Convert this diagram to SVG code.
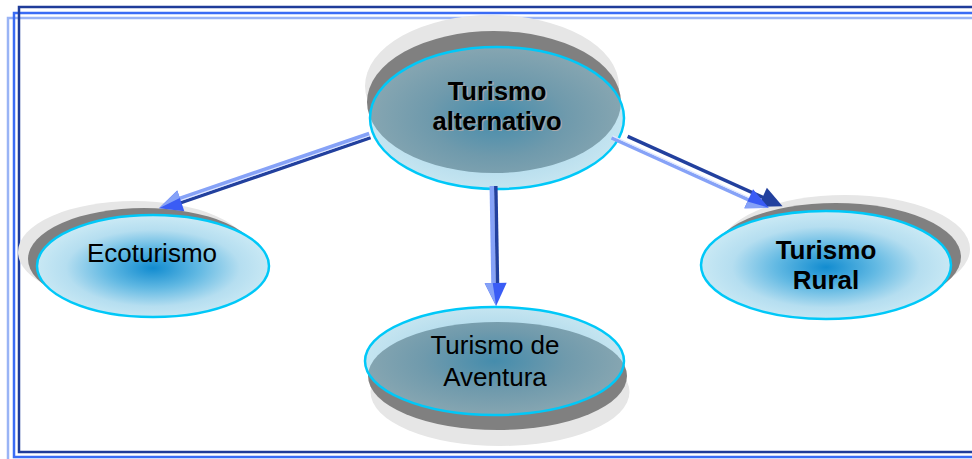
<svg xmlns="http://www.w3.org/2000/svg" width="972" height="459" viewBox="0 0 972 459">
<defs>
<style>
.sh1{fill:#e6e6e6}
.sh2{fill:#808080}
.mainO{fill:url(#gO);stroke:#00c8f8;stroke-width:2.5}
.mainT{fill:url(#gT);fill-opacity:0.5;stroke:#00c8f8;stroke-width:2.5}
.t{font-family:"Liberation Sans",Arial,sans-serif;font-size:26px;fill:#000;text-anchor:middle}
.b{font-weight:bold;font-size:25.5px}
.ts{fill:#a8a8a8}
.lt{stroke:#86a2f7;stroke-width:4.5;fill:none}
.wt{stroke:#dfe7ff;stroke-width:1.2;fill:none}
.dk{stroke:#22409e;stroke-width:3.5;fill:none}
.hd{fill:#3a5cf5}
.hl{fill:#86a2f7}
.hdk{fill:#22409e}
</style>
<radialGradient id="gO" cx="50%" cy="52%" r="50%">
<stop offset="0" stop-color="#128cd0"/>
<stop offset="0.4" stop-color="#62b9e3"/>
<stop offset="0.75" stop-color="#b5def0"/>
<stop offset="1" stop-color="#c8e8f4"/>
</radialGradient>
<radialGradient id="gT" cx="50%" cy="50%" r="50%">
<stop offset="0" stop-color="#0a98d8"/>
<stop offset="0.55" stop-color="#5fb4d8"/>
<stop offset="1" stop-color="#8ccbe2"/>
</radialGradient>
</defs>
<rect x="0" y="0" width="972" height="459" fill="#fff"/>
<g id="border" fill="none">
<rect x="8" y="18" width="980" height="460" stroke="#9ab4f5" stroke-width="2.5"/>
<rect x="14" y="13" width="980" height="444" stroke="#3a6cf5" stroke-width="2.5"/>
<rect x="19" y="7" width="980" height="445" stroke="#1f3c9a" stroke-width="2.5"/>
</g>
<g id="node-alternativo">
<ellipse class="sh1" cx="492" cy="86" rx="127" ry="71"/>
<ellipse class="sh2" cx="494" cy="102" rx="127" ry="71"/>
<ellipse class="mainT" cx="497" cy="118" rx="127" ry="71"/>
<text class="t b ts" x="498.4" y="101.4">Turismo</text>
<text class="t b ts" x="498.4" y="131.4">alternativo</text>
<text class="t b" x="497" y="100">Turismo</text>
<text class="t b" x="497" y="130">alternativo</text>
</g>
<g id="node-ecoturismo">
<ellipse class="sh1" cx="134" cy="252" rx="116" ry="51"/>
<ellipse class="sh2" cx="144" cy="259" rx="116" ry="51"/>
<ellipse class="mainO" cx="153" cy="266" rx="116" ry="51"/>
<text class="t" x="152" y="262">Ecoturismo</text>
</g>
<g id="node-aventura">
<ellipse class="sh1" cx="500" cy="392" rx="129.5" ry="54"/>
<ellipse class="sh2" cx="497.5" cy="376" rx="129.5" ry="54"/>
<ellipse class="mainT" cx="494.5" cy="361" rx="129.5" ry="54"/>
<text class="t" x="495" y="354">Turismo de</text>
<text class="t" x="495" y="386">Aventura</text>
</g>
<g id="node-rural">
<ellipse class="sh1" cx="845" cy="249" rx="125" ry="54"/>
<ellipse class="sh2" cx="836" cy="257" rx="125" ry="54"/>
<ellipse class="mainO" cx="826" cy="265" rx="125" ry="54"/>
<text class="t b" x="826" y="259" style="font-size:26px">Turismo</text>
<text class="t b" x="826" y="289" style="font-size:26px">Rural</text>
</g>
<g id="connectors">
<g transform="translate(370,136) rotate(161.1)">
<line class="lt" x1="0" y1="2.2" x2="202" y2="2.2"/>
<line class="dk" x1="0" y1="-1.8" x2="202" y2="-1.8"/>
<line class="wt" x1="0" y1="0.3" x2="202" y2="0.3"/>
<polygon class="hd" points="200,-11 223,0 200,11"/>
<polygon class="hl" points="200,11 223,0 200,3"/>
</g>
<g transform="translate(494,186) rotate(89)">
<line class="lt" x1="0" y1="2.2" x2="99" y2="2.2"/>
<line class="dk" x1="0" y1="-1.8" x2="99" y2="-1.8"/>
<polygon class="hd" points="97,-11 120,0 97,11"/>
<polygon class="hl" points="97,11 120,0 97,3"/>
</g>
<g transform="translate(612,137) rotate(24.3)">
<line class="dk" x1="14" y1="-7" x2="166" y2="-7"/>
<line class="lt" x1="0" y1="1" x2="154" y2="1" style="stroke-width:3.5"/>
<line class="wt" x1="0" y1="-1.2" x2="154" y2="-1.2"/>
<polygon class="hdk" points="162,-17.5 184,-7 162,3.5"/>
<polygon class="hd" points="150,-10.5 172,0 150,10.5"/>
<polygon class="hl" points="150,10.5 172,0 150,3"/>
</g>
</g>
</svg>
